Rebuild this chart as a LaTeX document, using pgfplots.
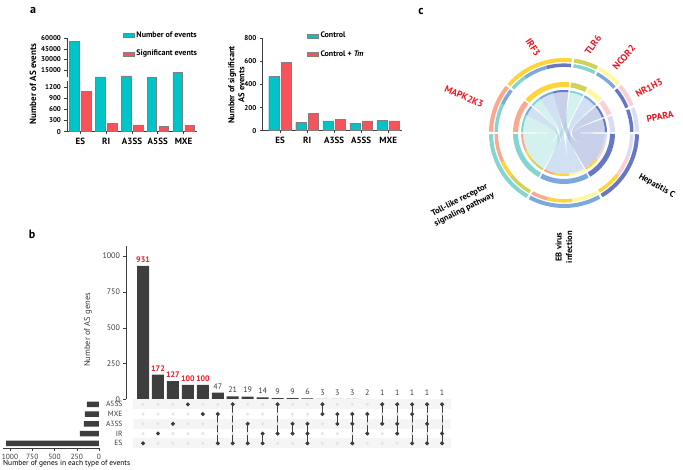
\documentclass[border=0pt]{standalone}
\usepackage{fontspec}
\setmainfont{PT Sans}
\usepackage{pgfplots}
\pgfplotsset{compat=1.18}
\definecolor{cyanbar}{RGB}{0,196,200}
\definecolor{redbar}{RGB}{248,82,90}
\definecolor{ink}{RGB}{60,60,60}
\definecolor{barb}{RGB}{62,62,62}
\definecolor{cSalmon}{RGB}{251,169,140}
\definecolor{cGold}{RGB}{255,212,59}
\definecolor{cOlive}{RGB}{210,210,90}
\definecolor{cLYellow}{RGB}{255,248,160}
\definecolor{cPink}{RGB}{251,208,213}
\definecolor{cLav}{RGB}{218,220,245}
\definecolor{cTeal}{RGB}{132,213,209}
\definecolor{cBlue}{RGB}{123,169,220}
\definecolor{cSlate}{RGB}{100,121,193}
\definecolor{genered}{RGB}{240,20,30}
\newcommand{\fs}[1]{\fontsize{#1}{#1}\selectfont}
% ring segment: start, end, radius, width, colour
\newcommand{\seg}[5]{\draw[line width=#4pt,#5] ([shift={(#1:#3pt)}]axis cs:0,0) arc[start angle=#1,end angle=#2,radius=#3pt];}
% chord between two arcs
\newcommand{\chord}[5]{\fill[#5,opacity=0.35] ([shift={(#1:41pt)}]axis cs:0,0) arc[start angle=#1,end angle=#2,radius=41pt] .. controls (axis cs:0,0) .. ([shift={(#3:41pt)}]axis cs:0,0) arc[start angle=#3,end angle=#4,radius=41pt] .. controls (axis cs:0,0) .. cycle;}
\pgfplotsset{
  panela/.style={
    scale only axis, anchor=south west,
    axis lines*=left,
    axis line style={draw=ink, line width=0.7pt},
    tick style={draw=ink, line width=0.6pt},
    major tick length=2.5pt, tick align=outside,
    xtick={0,...,4}, xticklabels={ES,RI,A3SS,A5SS,MXE},
    xticklabel style={font=\bfseries\fs{9}, text=black},
    yticklabel style={font=\bfseries\fs{7}, text=black},
    /pgf/number format/assume math mode=true,
    /pgf/number format/1000 sep={},
    legend cell align=left,
  },
  boxlegend/.style={legend image code/.code={\draw[##1,draw=gray] (0pt,-2pt) rectangle (11pt,2pt);}},
}
\begin{document}
\begin{tikzpicture}[x=1pt,y=1pt]
\path[use as bounding box] (0,0) rectangle (683,469);

% ---------------- panel a, left
\begin{axis}[panela,
  at={(67pt,337.3pt)}, width=130pt, height=93.4pt,
  ybar=2.5pt, bar width=9.5pt, boxlegend,
  xmin=-0.52, xmax=4.52, ymin=0, ymax=60000,
  y coord trafo/.code={%
    \begingroup
    \pgfkeys{/pgf/fpu=true,/pgf/fpu/output format=fixed}%
    \pgfmathparse{ifthenelse(#1<1200.01,#1/300,ifthenelse(#1<15000.01,4+(#1-1200)/9200,5.5+(#1-15000)/15789))}%
    \pgfmathsmuggle\pgfmathresult
    \endgroup},
  ytick={0,300,600,900,1200,15000,30000,45000,60000},
  yticklabels={0,300,600,900,1200,15000,30000,45000,60000},
  legend style={at={(rel axis cs:0.43,1.09)}, anchor=north west, draw=none, fill=none,
    font=\bfseries\fs{8}, row sep=7pt, inner sep=0pt},
]
\addplot[fill=cyanbar, draw=gray] coordinates {(0,55300) (1,9500) (2,10300) (3,9200) (4,13300)};
\addplot[fill=redbar, draw=gray] coordinates {(0,1080) (1,225) (2,180) (3,152) (4,170)};
\legend{Number of events, Significant events}
\end{axis}
\fill[white] (64,387.5) rectangle (69,391.5);
\node[rotate=90, font=\bfseries\fs{9}] at (33,385) {Number of AS events};

% ---------------- panel a, right
\begin{axis}[panela,
  at={(262.3pt,338.3pt)}, width=139.4pt, height=92.4pt,
  ybar=2pt, bar width=10.4pt, boxlegend,
  xmin=-0.66, xmax=4.5, ymin=0, ymax=800,
  ytick={0,200,400,600,800},
  legend style={at={(rel axis cs:0.32,1.09)}, anchor=north west, draw=none, fill=none,
    font=\bfseries\fs{8}, row sep=7pt, inner sep=0pt},
]
\addplot[fill=cyanbar, draw=gray] coordinates {(0,470) (1,73) (2,84) (3,64) (4,88)};
\addplot[fill=redbar, draw=gray] coordinates {(0,592) (1,150) (2,100) (3,84) (4,84)};
\legend{Control, Control + \textit{Tm}}
\end{axis}
\node[rotate=90, font=\bfseries\fontsize{8.5}{10}\selectfont, align=center] at (236.5,384) {Number of significant\\AS events};

% ---------------- panel b, intersection sizes
\begin{axis}[
  at={(126pt,69.7pt)}, anchor=south west, scale only axis,
  width=325pt, height=153.3pt,
  xmin=-1.14, xmax=20.6, ymin=0, ymax=1070,
  axis x line=none, axis y line=left,
  axis line style={draw=ink, line width=0.6pt, -},
  tick style={draw=ink}, major tick length=2.5pt, tick align=outside,
  ytick={0,250,500,750,1000},
  yticklabel style={font=\fs{8}, text=ink},
  /pgf/number format/assume math mode=true,
  /pgf/number format/1000 sep={},
]
\addplot[ybar, bar width=12pt, bar shift=0pt, fill=barb, draw=none,
  nodes near coords, every node near coord/.append style={font=\bfseries\fs{8}, text=genered}]
  coordinates {(0,931) (1,172) (2,127) (3,100) (4,100)};
\addplot[ybar, bar width=12pt, bar shift=0pt, fill=barb, draw=none,
  nodes near coords, every node near coord/.append style={font=\fs{8}, text=ink}]
  coordinates {(5,47) (6,21) (7,19) (8,14) (9,9) (10,9) (11,6) (12,3) (13,3) (14,3)
               (15,2) (16,1) (17,1) (18,1) (19,1) (20,1)};
\end{axis}
\node[rotate=90, font=\fs{8.5}, text=ink] at (88,139) {Number of AS genes};

% ---------------- panel b, matrix
\begin{axis}[
  at={(126pt,20.8pt)}, anchor=south west, scale only axis,
  width=325pt, height=48.75pt,
  xmin=-1.14, xmax=20.6, ymin=0.5, ymax=5.5,
  axis x line=none, axis y line=left,
  y axis line style={draw=none}, major tick length=0pt,
  ytick={1,...,5}, yticklabels={ES,IR,A3SS,MXE,A5SS},
  yticklabel style={font=\fs{7.5}, text=ink},
  clip=false,
]
\fill[gray!8] (axis cs:-0.67,0.5) rectangle (axis cs:20.6,1.5);
\fill[gray!8] (axis cs:-0.67,2.5) rectangle (axis cs:20.6,3.5);
\fill[gray!8] (axis cs:-0.67,4.5) rectangle (axis cs:20.6,5.5);
\pgfplotsinvokeforeach{1,...,5}{
\addplot[only marks, mark=*, mark size=1.3pt, color=gray!22] coordinates {
  (0,#1) (1,#1) (2,#1) (3,#1) (4,#1) (5,#1) (6,#1) (7,#1) (8,#1) (9,#1) (10,#1)
  (11,#1) (12,#1) (13,#1) (14,#1) (15,#1) (16,#1) (17,#1) (18,#1) (19,#1) (20,#1)};
}
\addplot[ink, line width=0.8pt, mark=*, mark size=1.6pt, unbounded coords=jump] coordinates {
  (0,1) (0,nan) (1,2) (1,nan) (2,3) (2,nan) (3,5) (3,nan) (4,4) (4,nan)
  (5,4) (5,1) (5,nan) (6,5) (6,1) (6,nan) (7,3) (7,1) (7,nan) (8,2) (8,1) (8,nan)
  (9,5) (9,2) (9,nan) (10,3) (10,2) (10,nan) (11,3) (11,2) (11,1) (11,nan)
  (12,5) (12,4) (12,nan) (13,4) (13,3) (13,nan) (14,4) (14,3) (14,1) (14,nan)
  (15,4) (15,2) (15,nan) (16,5) (16,3) (16,nan) (17,5) (17,3) (17,2) (17,nan)
  (18,5) (18,4) (18,1) (18,nan) (19,5) (19,3) (19,1) (19,nan) (20,5) (20,2) (20,1)};
\end{axis}

% ---------------- panel b, set sizes
\begin{axis}[
  at={(3.3pt,20.8pt)}, anchor=south west, scale only axis,
  width=95.7pt, height=48.75pt,
  x dir=reverse, xmin=0, xmax=1075, ymin=0.5, ymax=5.5,
  axis x line=bottom, axis y line=none,
  axis line style={draw=ink, line width=0.6pt, -},
  tick style={draw=ink}, major tick length=2.5pt, tick align=outside,
  xtick={0,250,500,750,1000},
  xticklabel style={font=\fs{7.5}, text=ink},
  /pgf/number format/assume math mode=true,
  /pgf/number format/1000 sep={},
]
\addplot[xbar, bar width=5.5pt, bar shift=0pt, fill=barb, draw=none]
  coordinates {(1044,1) (214,2) (170,3) (159,4) (137,5)};
\end{axis}
\node[anchor=west, font=\fs{7.5}, text=black, inner sep=0pt] at (3,5.2) {Number of genes in each type of events};

% ---------------- panel c, chord diagram
\begin{axis}[
  at={(484pt,256pt)}, anchor=south west, x=1pt, y=1pt,
  xmin=-80, xmax=80, ymin=-80, ymax=80,
  hide axis, clip=false,
]
\addplot[draw=none] coordinates {(0,0)};
% chords
\chord{155}{179}{181}{205}{cTeal}
\chord{141}{155}{242}{256}{cBlue}
\chord{125}{139}{205}{219}{cTeal}
\chord{105}{125}{256}{277}{cBlue}
\chord{84}{105}{301}{322}{cSlate}
\chord{63}{82}{219}{240}{cTeal}
\chord{42}{61}{277}{299}{cBlue}
\chord{22}{40}{322}{340}{cSlate}
\chord{1}{20}{340}{359}{cSlate}
% outer sector band
\seg{1}{20}{73}{4}{cLav}
\seg{22}{40}{73}{4}{cPink}
\seg{42}{61}{73}{4}{cLYellow}
\seg{63}{82}{73}{4}{cOlive}
\seg{84}{139}{73}{4}{cGold}
\seg{141}{179}{73}{4}{cSalmon}
\seg{181}{240}{73}{4}{cTeal}
\seg{242}{299}{73}{4}{cBlue}
\seg{301}{359}{73}{4}{cSlate}
% outer partner band
\seg{1}{20}{67.8}{3.5}{cSlate}
\seg{22}{40}{67.8}{3.5}{cSlate}
\seg{42}{61}{67.8}{3.5}{cBlue}
\seg{63}{82}{67.8}{3.5}{cTeal}
\seg{84}{105}{67.8}{3.5}{cSlate}
\seg{105}{125}{67.8}{3.5}{cBlue}
\seg{125}{139}{67.8}{3.5}{cTeal}
\seg{141}{155}{67.8}{3.5}{cBlue}
\seg{155}{179}{67.8}{3.5}{cTeal}
\seg{181}{205}{67.8}{3.5}{cSalmon}
\seg{205}{219}{67.8}{3.5}{cGold}
\seg{219}{240}{67.8}{3.5}{cOlive}
\seg{242}{256}{67.8}{3.5}{cSalmon}
\seg{256}{277}{67.8}{3.5}{cGold}
\seg{277}{299}{67.8}{3.5}{cLYellow}
\seg{301}{322}{67.8}{3.5}{cGold}
\seg{322}{340}{67.8}{3.5}{cPink}
\seg{340}{359}{67.8}{3.5}{cLav}
% inner sector band
\seg{1}{20}{48.5}{5}{cLav}
\seg{22}{40}{48.5}{5}{cPink}
\seg{42}{61}{48.5}{5}{cLYellow}
\seg{63}{82}{48.5}{5}{cOlive}
\seg{84}{139}{48.5}{5}{cGold}
\seg{141}{179}{48.5}{5}{cSalmon}
\seg{181}{240}{48.5}{5}{cTeal}
\seg{242}{299}{48.5}{5}{cBlue}
\seg{301}{359}{48.5}{5}{cSlate}
% inner partner band
\seg{1}{20}{42}{2}{cSlate}
\seg{22}{40}{42}{2}{cSlate}
\seg{42}{61}{42}{2}{cBlue}
\seg{63}{82}{42}{2}{cTeal}
\seg{84}{105}{42}{2}{cSlate}
\seg{105}{125}{42}{2}{cBlue}
\seg{125}{139}{42}{2}{cTeal}
\seg{141}{155}{42}{2}{cBlue}
\seg{155}{179}{42}{2}{cTeal}
\seg{181}{205}{42}{2}{cSalmon}
\seg{205}{219}{42}{2}{cGold}
\seg{219}{240}{42}{2}{cOlive}
\seg{242}{256}{42}{2}{cSalmon}
\seg{256}{277}{42}{2}{cGold}
\seg{277}{299}{42}{2}{cLYellow}
\seg{301}{322}{42}{2}{cGold}
\seg{322}{340}{42}{2}{cPink}
\seg{340}{359}{42}{2}{cLav}
\end{axis}
\begin{scope}[every node/.style={font=\bfseries\fs{9.5}, text=genered, inner sep=0pt}]
\node[rotate=-24] at (464,372.3) {MAPK2K3};
\node[rotate=-56] at (533,422) {IRF3};
\node[rotate=55] at (593,424) {TLR6};
\node[rotate=48.5] at (624,411.5) {NCOR2};
\node[rotate=28] at (649,381) {NR1H3};
\node[rotate=11] at (660,352.3) {PPARA};
\end{scope}
\begin{scope}[every node/.style={font=\bfseries\fontsize{8.5}{10.5}\selectfont, text=black, inner sep=0pt, align=center}]
\node[rotate=-29.5] at (656.7,283) {Hepatitis C};
\node[rotate=90] at (564,222) {EB virus\\infection};
\node[rotate=27] at (462,264) {Toll-like receptor\\signaling pathway};
\end{scope}

% panel letters
\node[font=\bfseries\fs{12}] at (33,459) {a};
\node[font=\bfseries\fs{12}] at (32,235) {b};
\node[font=\bfseries\fs{12}] at (421,457) {c};
\end{tikzpicture}
\end{document}
